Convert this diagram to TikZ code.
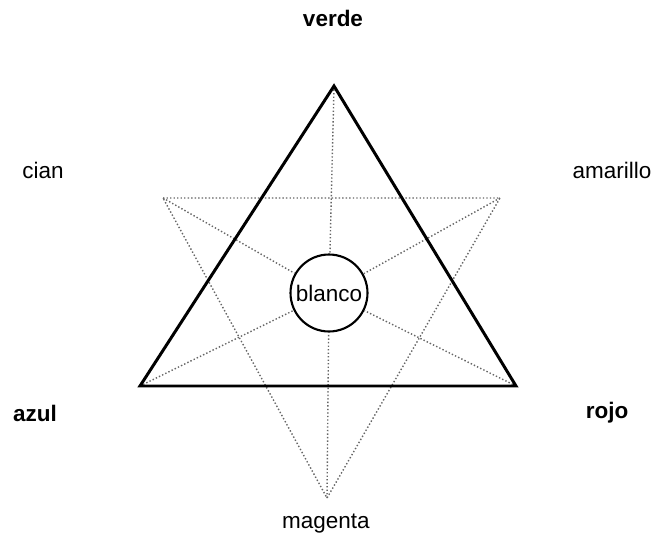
\documentclass[tikz,border=0pt]{standalone}
\usepackage{fontspec}
\setmainfont{Liberation Sans}
\usepackage{tikz}
\usetikzlibrary{positioning,calc}

\begin{document}
\begin{tikzpicture}[x=0.02cm,y=-0.02cm,
  lab/.style={font=\fontsize{12.8}{15}\selectfont},
  primary/.style={lab,font=\fontsize{12.8}{15}\selectfont\bfseries},
  guide/.style={black!60,line width=0.8pt,dash pattern=on 0.8pt off 1.2pt}]
\useasboundingbox (0,0) rectangle (656,541);
%% Vertices of the two triangles
\coordinate (G) at (334,86);
\coordinate (B) at (140,386);
\coordinate (R) at (516,386);
\coordinate (C) at (163,198);
\coordinate (Y) at (500,198);
\coordinate (M) at (327,498);
%% White in the centre
\node[circle,draw,line width=1.2pt,minimum size=1.54cm,inner sep=0pt,lab] (W) at (329,293) {blanco};
%% Secondary colours (dotted triangle)
\draw[guide] (C) -- (Y) -- (M) -- cycle;
%% Lines through the centre
\foreach \p in {G,B,R,C,Y,M}{
  \draw[guide] (\p) -- (W);
}
%% Primary colours (solid triangle)
\draw[line width=1.7pt,line join=miter] (G) -- (B) -- (R) -- cycle;
%% Labels
\node[primary] (verde) at (333,18) {verde};
\node[primary] (azul) at (35,413) {azul};
\node[primary] (rojo) at (607,413) {rojo};
\node[lab] (cian) at (43,170) {cian};
\node[lab] (amarillo) at (612,170) {amarillo};
\node[lab] (magenta) at (326,524) {magenta};
\end{tikzpicture}
\end{document}
